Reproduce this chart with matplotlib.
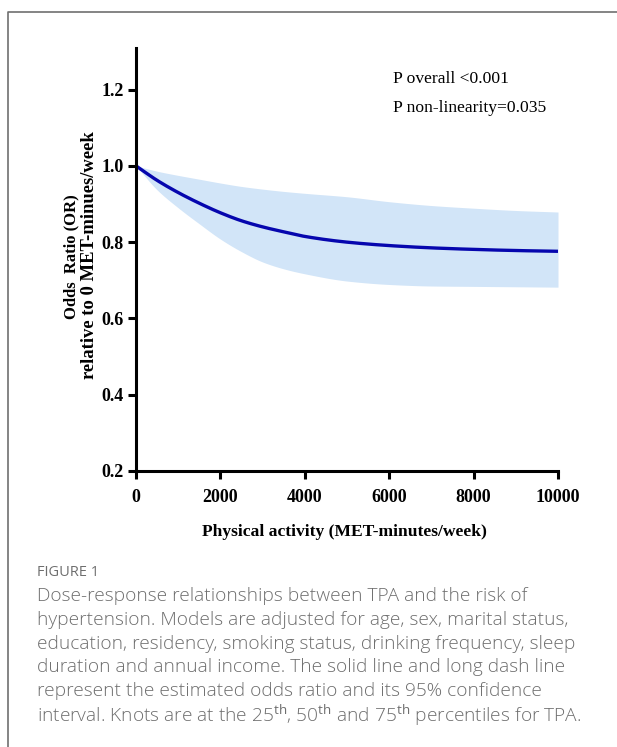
import matplotlib
matplotlib.use("Agg")
import matplotlib.pyplot as plt
from matplotlib.lines import Line2D
import numpy as np

# Data
pa = [0, 500, 1000, 1500, 2000, 2500, 3000, 3500, 4000, 5000, 6000, 7000, 8000, 9000, 10000]
or_est = [1.0, 0.962, 0.930, 0.902, 0.877, 0.856, 0.840, 0.827, 0.815, 0.800, 0.791, 0.785, 0.781, 0.778, 0.776]
or_upper = [1.0, 0.986, 0.975, 0.965, 0.955, 0.946, 0.939, 0.933, 0.928, 0.919, 0.906, 0.896, 0.889, 0.883, 0.879]
or_lower = [1.0, 0.937, 0.890, 0.848, 0.808, 0.775, 0.748, 0.730, 0.717, 0.698, 0.689, 0.685, 0.684, 0.683, 0.682]

xticks = [0, 2000, 4000, 6000, 8000, 10000]
yticks = [0.2, 0.4, 0.6, 0.8, 1.0, 1.2]


def pchip(x, y, xs):
    # monotone cubic through the read points, only for a smooth drawing
    x = np.asarray(x, float)
    y = np.asarray(y, float)
    h = np.diff(x)
    d = np.diff(y) / h
    m = np.zeros_like(y)
    for i in range(1, len(y) - 1):
        if d[i - 1] * d[i] > 0:
            w1 = 2 * h[i] + h[i - 1]
            w2 = h[i] + 2 * h[i - 1]
            m[i] = (w1 + w2) / (w1 / d[i - 1] + w2 / d[i])
    m[0] = d[0]
    m[-1] = d[-1]
    k = np.clip(np.searchsorted(x, xs) - 1, 0, len(x) - 2)
    t = (xs - x[k]) / h[k]
    h00 = 2 * t**3 - 3 * t**2 + 1
    h10 = t**3 - 2 * t**2 + t
    h01 = -2 * t**3 + 3 * t**2
    h11 = t**3 - t**2
    return h00 * y[k] + h10 * h[k] * m[k] + h01 * y[k + 1] + h11 * h[k] * m[k + 1]


xs = np.linspace(0, 10000, 400)

fig = plt.figure(figsize=(6.17, 7.47), dpi=100)
W, H = 617, 747

ax = fig.add_axes([136 / W, 1 - 471 / H, (558 - 136) / W, (471 - 48) / H])
ax.fill_between(xs, pchip(pa, or_lower, xs), pchip(pa, or_upper, xs), color="#d2e5f8", lw=0)
ax.plot(xs, pchip(pa, or_est, xs), color="#0606ae", lw=2.4, solid_capstyle="butt")

ax.set_xlim(0, 10000)
ax.set_ylim(0.2, 1.309)
ax.set_xticks(xticks)
ax.set_yticks(yticks)
ax.set_xticklabels([str(t) for t in xticks])
ax.set_yticklabels(["%.1f" % t for t in yticks])
for s in ["top", "right"]:
    ax.spines[s].set_visible(False)
for s in ["left", "bottom"]:
    ax.spines[s].set_linewidth(2.2)
ax.tick_params(width=2.2, length=6, labelsize=13, pad=3)
for lab in ax.get_xticklabels() + ax.get_yticklabels():
    lab.set_fontfamily("Liberation Serif")
    lab.set_fontweight("bold")
ax.tick_params(axis="x", pad=7)

serif = "Liberation Serif"
fig.text(393 / W, 1 - 83 / H, "P overall <0.001",
         fontsize=12.6, family=serif, va="baseline", ha="left")
fig.text(393 / W, 1 - 112.5 / H, "P non-linearity=0.035",
         fontsize=12.6, family=serif, va="baseline", ha="left")

fig.text(344 / W, 1 - 532 / H, "Physical activity (MET-minutes/week)",
         fontsize=12.6, family=serif, fontweight="bold", ha="center", va="center")
fig.text(71 / W, 1 - 257 / H, "Odds  Ratio (OR)", rotation=90,
         fontsize=12, family=serif, fontweight="bold", ha="center", va="center")
fig.text(89 / W, 1 - 255 / H, "relative to 0 MET-minues/week", rotation=90,
         fontsize=13.4, family=serif, fontweight="bold", ha="center", va="center")

# card border
fig.add_artist(Line2D([8 / W, 8 / W, 1], [0, 1 - 12 / H, 1 - 12 / H],
                      transform=fig.transFigure, color="#707070", lw=1.2))

cap_color = "#6e6e6e"
fig.text(37 / W, 1 - 573 / H, "FIGURE 1", fontsize=10.5, family="Open Sans",
         color=cap_color, va="center", ha="left")
caption = [
    "Dose-response relationships between TPA and the risk of",
    "hypertension. Models are adjusted for age, sex, marital status,",
    "education, residency, smoking status, drinking frequency, sleep",
    "duration and annual income. The solid line and long dash line",
    "represent the estimated odds ratio and its 95% confidence",
    r"interval. Knots are at the 25$^{\rm th}$, 50$^{\rm th}$ and 75$^{\rm th}$ percentiles for TPA.",
]
plt.rcParams["mathtext.fontset"] = "custom"
plt.rcParams["mathtext.rm"] = "Open Sans"
for i, line in enumerate(caption):
    fig.text(37 / W, 1 - (596 + 23.8 * i) / H, line, fontsize=13.8,
             family="Open Sans", fontweight="light", color=cap_color,
             va="center", ha="left")

fig.savefig("out.png", dpi=100)
